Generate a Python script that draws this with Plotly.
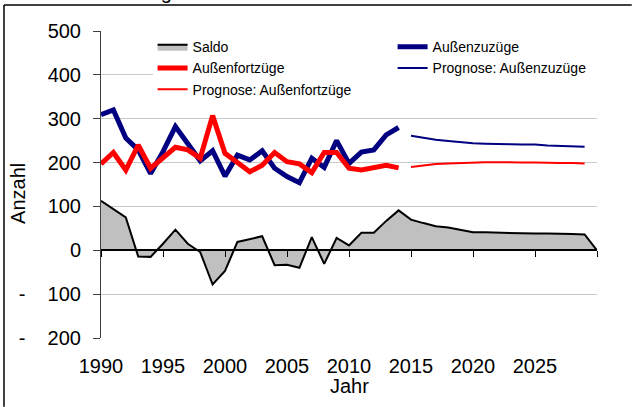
import plotly.graph_objects as go

years_hist = list(range(1990, 2015))
years_prog = list(range(2015, 2030))
years_saldo = list(range(1990, 2031))

aussenzuzuege = [309, 320, 256, 229, 175, 225, 282, 244, 204, 227, 169, 217, 206, 227, 187,
                 168, 154, 210, 189, 250, 198, 224, 229, 263, 280]
aussenfortzuege = [197, 223, 183, 240, 187, 210, 235, 229, 210, 307, 221, 200, 179, 194, 223,
                   202, 197, 177, 223, 223, 187, 183, 188, 194, 188]
prog_zuzuege = [261, 256, 252, 249, 246, 244, 243, 243, 242, 241, 241, 239, 238, 237, 236]
prog_fortzuege = [190, 194, 197, 198, 199, 201, 201, 201, 200, 200, 200, 199, 199, 199, 198]
saldo = [113, 95, 75, -14, -15, 15, 47, 15, -4, -78, -47, 19, 25, 32, -34, -33, -40, 30, -31,
         28, 11, 40, 40, 67, 91, 70, 62, 55, 52, 46, 41, 41, 40, 40, 39, 38, 38, 38, 37, 36, 0]

SP = "\u00a0\u2060\u00a0\u2060\u00a0\u2060\u00a0"
y_tickvals = [500, 400, 300, 200, 100, 0, -100, -200]
y_ticktext = ["500", "400", "300", "200", "100", "0", "-" + SP + "100", "-" + SP + "200"]
x_labelvals = [1990, 1995, 2000, 2005, 2010, 2015, 2020, 2025]
x_tickvals = [1990, 1995, 2000, 2005, 2010, 2015, 2020, 2025, 2030]

FONT = "Liberation Sans, Arial, sans-serif"
NAVY = "#000080"
RED = "#FF0000"

fig = go.Figure()
fig.add_trace(go.Scatter(x=years_saldo, y=saldo, name="Saldo", mode="lines",
                         fill="tozeroy", fillcolor="#C0C0C0",
                         line=dict(color="black", width=2), xaxis="x2"))
fig.add_trace(go.Scatter(x=years_hist, y=aussenzuzuege, name="Außenzuzüge", mode="lines",
                         line=dict(color=NAVY, width=5)))
fig.add_trace(go.Scatter(x=years_hist, y=aussenfortzuege, name="Außenfortzüge", mode="lines",
                         line=dict(color=RED, width=5)))
fig.add_trace(go.Scatter(x=years_prog, y=prog_zuzuege, name="Prognose: Außenzuzüge", mode="lines",
                         line=dict(color=NAVY, width=2)))
fig.add_trace(go.Scatter(x=years_prog, y=prog_fortzuege, name="Prognose: Außenfortzüge", mode="lines",
                         line=dict(color=RED, width=2)))

fig.update_layout(
    width=633, height=407,
    margin=dict(l=101, r=36, t=31, b=69, autoexpand=False),
    paper_bgcolor="white", plot_bgcolor="white",
    font=dict(family=FONT, size=20, color="black"),
    showlegend=True,
    legend=dict(orientation="h", x=0.104, y=0.9995, xanchor="left", yanchor="top",
                bgcolor="white", borderwidth=0, font=dict(size=14, family=FONT),
                entrywidth=195, entrywidthmode="pixels", traceorder="normal"),
    xaxis=dict(range=[1990, 2030], anchor="free", position=2/7, automargin=False,
               tickvals=x_tickvals, showticklabels=False, ticks="outside", ticklen=6,
               tickcolor="black", tickwidth=1, showline=True, linecolor="black", linewidth=2,
               showgrid=False, zeroline=False, layer="above traces"),
    xaxis2=dict(range=[1990, 2030], overlaying="x", anchor="y", side="bottom", automargin=False,
                tickvals=x_labelvals, ticks="", showline=False, showgrid=False,
                zeroline=False, ticklabelstandoff=14, tickfont=dict(size=20, family=FONT)),
    yaxis=dict(range=[-200, 500], tickvals=y_tickvals, ticktext=y_ticktext, automargin=False,
               ticks="outside", ticklen=7, tickcolor="#404040", showline=True,
               linecolor="#404040", linewidth=1, showgrid=True, gridcolor="#C8C8C8",
               gridwidth=1, zeroline=False, ticklabelstandoff=8),
    annotations=[
        dict(text="Jahr", xref="paper", yref="paper", x=0.5, y=-0.114, showarrow=False,
             xanchor="center", yanchor="top", font=dict(size=20, family=FONT)),
        dict(text="Anzahl", xref="paper", yref="paper", x=-0.167, y=0.47, showarrow=False,
             textangle=-90, xanchor="center", yanchor="middle", font=dict(size=20, family=FONT)),
        dict(text="Außenwanderung", xref="paper", yref="paper", x=-0.18, y=1.086,
             showarrow=False, xanchor="left", yanchor="bottom", font=dict(size=20, family=FONT)),
    ],
    shapes=[
        dict(type="line", xref="paper", yref="paper", layer="above",
             x0=-0.1956, x1=1.07, y0=1.0845, y1=1.0845,
             line=dict(color="black", width=1.5)),
        dict(type="line", xref="paper", yref="paper", layer="above",
             x0=-0.1956, x1=-0.1956, y0=1.0845, y1=-0.224,
             line=dict(color="black", width=1.5)),
    ],
)

fig.write_html("out.html", config={"displayModeBar": False},
               post_script="document.body.style.margin='0';document.body.style.padding='0';")
